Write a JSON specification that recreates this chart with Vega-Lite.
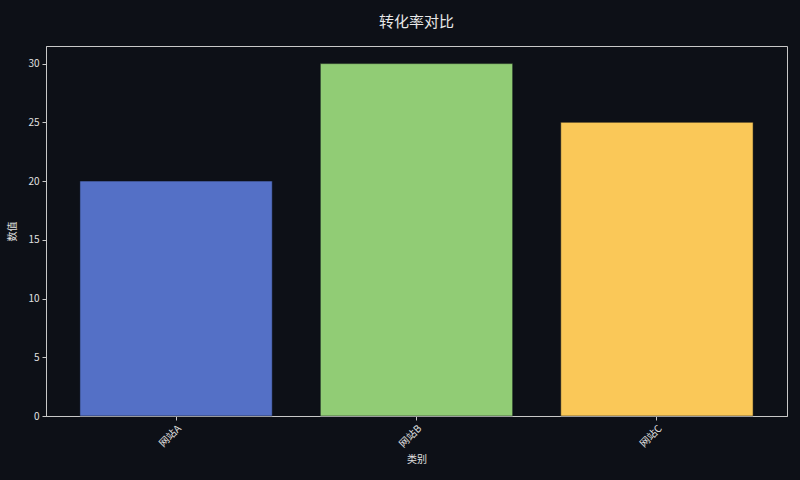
{
  "$schema": "https://vega.github.io/schema/vega-lite/v6.json",
  "autosize": "none",
  "width": 741,
  "height": 370,
  "padding": {"left": 46, "top": 46, "right": 13, "bottom": 64},
  "background": "#0d1017",
  "title": {
    "text": "转化率对比",
    "fontSize": 15,
    "fontWeight": "normal",
    "color": "#e8e8e8",
    "font": "Noto Sans CJK SC",
    "anchor": "middle",
    "offset": 16
  },
  "data": {
    "values": [
      {"category": "网站A", "value": 20},
      {"category": "网站B", "value": 30},
      {"category": "网站C", "value": 25}
    ]
  },
  "mark": {"type": "bar", "stroke": "#0d1017", "strokeWidth": 0.5},
  "encoding": {
    "x": {
      "field": "category",
      "type": "nominal",
      "title": "类别",
      "scale": {"paddingInner": 0.2, "paddingOuter": 0.141},
      "axis": {"labelAngle": -45, "labelAlign": "right", "labelBaseline": "top", "titlePadding": 6}
    },
    "y": {
      "field": "value",
      "type": "quantitative",
      "title": "数值",
      "scale": {"domain": [0, 31.5], "nice": false},
      "axis": {"values": [0, 5, 10, 15, 20, 25, 30], "titlePadding": 10}
    },
    "color": {
      "field": "category",
      "type": "nominal",
      "legend": null,
      "scale": {"range": ["#5470c6", "#91cc75", "#fac858"]}
    }
  },
  "config": {
    "view": {"stroke": "#c8c8c8", "strokeWidth": 1},
    "axis": {
      "grid": false,
      "domainColor": "#c8c8c8",
      "tickColor": "#c8c8c8",
      "tickSize": 4,
      "labelColor": "#e0e0e0",
      "titleColor": "#e0e0e0",
      "labelFont": "Noto Sans CJK SC",
      "titleFont": "Noto Sans CJK SC",
      "labelFontSize": 10,
      "titleFontSize": 10,
      "titleFontWeight": "normal",
      "labelPadding": 3
    }
  }
}
